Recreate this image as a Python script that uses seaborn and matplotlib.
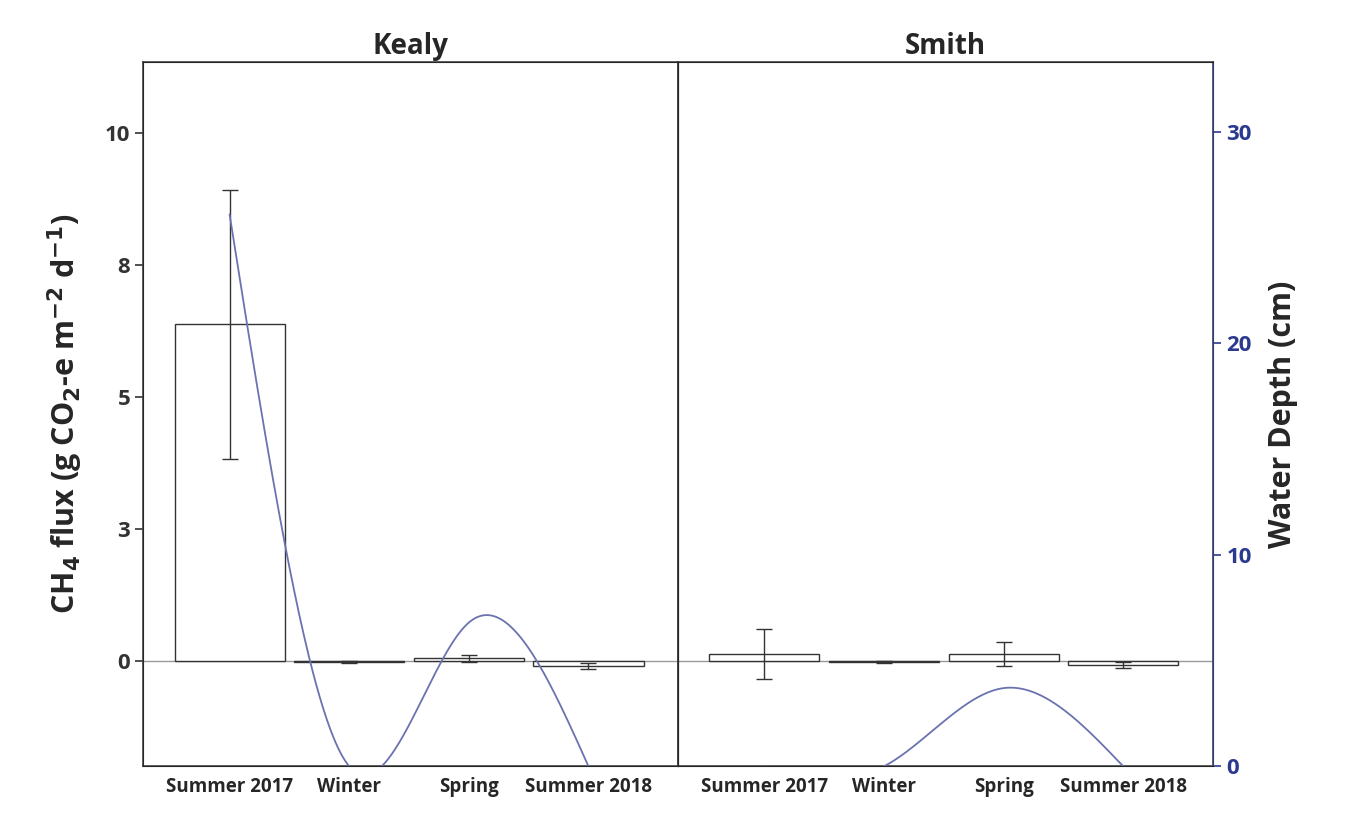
import numpy as np
import pandas as pd
import matplotlib
matplotlib.use("Agg")
import matplotlib.pyplot as plt
import seaborn as sns

seasons = ["Summer 2017", "Winter", "Spring", "Summer 2018"]
sites = ["Kealy", "Smith"]
flux_kealy = [6.38, -0.02, 0.05, -0.10]
err_kealy = [2.55, 0.02, 0.07, 0.05]
flux_smith = [0.13, -0.02, 0.13, -0.08]
err_smith = [0.48, 0.02, 0.23, 0.05]
depth_kealy = [26.1, 0.0, 6.8, 0.0]
depth_smith = [0.0, 0.0, 3.7, 0.0]


def natural_spline(y, t):
    # natural cubic spline through equally spaced points at x = 0..n-1
    y = np.asarray(y, float)
    n = len(y)
    A = np.zeros((n, n))
    b = np.zeros(n)
    A[0, 0] = A[-1, -1] = 1
    for i in range(1, n - 1):
        A[i, i - 1:i + 2] = [1, 4, 1]
        b[i] = 6 * (y[i + 1] - 2 * y[i] + y[i - 1])
    M = np.linalg.solve(A, b)
    i = np.clip(np.floor(t).astype(int), 0, n - 2)
    u = t - i
    return ((1 - u) * y[i] + u * y[i + 1]
            + ((1 - u) ** 3 - (1 - u)) * M[i] / 6 + (u ** 3 - u) * M[i + 1] / 6)


sns.set_style("white")
plt.rcParams["font.family"] = ["Open Sans", "DejaVu Sans"]
plt.rcParams["font.weight"] = "bold"

fig, axes = plt.subplots(1, 2, figsize=(13.66, 8.17), dpi=100, sharey=True)
fig.subplots_adjust(left=0.105, right=0.888, top=0.924, bottom=0.062, wspace=0)

flux = {"Kealy": flux_kealy, "Smith": flux_smith}
errs = {"Kealy": err_kealy, "Smith": err_smith}
depth = {"Kealy": depth_kealy, "Smith": depth_smith}
blue = "#2b3a8f"

for ax, site in zip(axes, sites):
    df = pd.DataFrame({"season": seasons, "flux": flux[site]})
    sns.barplot(data=df, x="season", y="flux", ax=ax, color="white",
                edgecolor="#333333", linewidth=1.0, width=0.92)
    ax.errorbar(range(4), flux[site], yerr=errs[site], fmt="none",
                ecolor="#333333", elinewidth=1, capsize=6)
    ax.axhline(0, color="#999999", lw=1, zorder=0)
    ax.set_ylim(-2.0, 11.35)
    ax.set_xlim(-0.72, 3.75)
    ax.set_title(site, fontsize=20, fontweight="bold")
    ax.set_xlabel("")
    ax.tick_params(axis="x", labelsize=13.5, length=0, pad=8)
    for s in ax.spines.values():
        s.set_color("#444444")
        s.set_linewidth(1.2)

    ax2 = ax.twinx()
    t = np.linspace(0, 3, 300)
    ax2.plot(t, natural_spline(depth[site], t), color="#6b72b0", lw=1.3)
    ax2.set_ylim(0, 33.3)
    if site == "Smith":
        ax2.set_yticks([0, 10, 20, 30])
        ax2.tick_params(axis="y", colors=blue, labelsize=16, length=6, width=1.2)
        ax2.spines["right"].set_color(blue)
        ax2.set_ylabel("Water Depth (cm)", fontsize=22, fontweight="bold", labelpad=12)
    else:
        ax2.set_yticks([])

axes[0].set_yticks([0, 2.5, 5, 7.5, 10])
axes[0].set_yticklabels(["0", "3", "5", "8", "10"])
axes[0].tick_params(axis="y", labelsize=16, length=6, width=1.2, left=True, colors="#333333")
axes[0].set_ylabel(r"CH$_4$ flux (g CO$_2$-e m$^{-2}$ d$^{-1}$)", fontsize=22,
                   fontweight="bold", labelpad=14)
axes[1].set_ylabel("")
axes[1].tick_params(axis="y", left=False)

fig.savefig("out.png", dpi=100)
